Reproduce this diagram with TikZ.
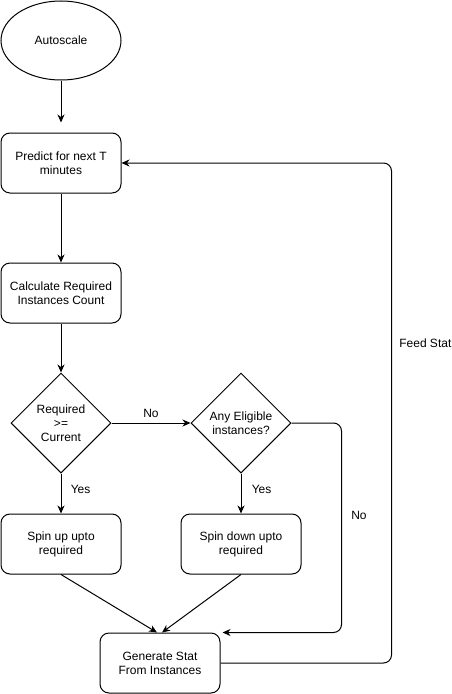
\documentclass[tikz,border=0pt]{standalone}
\usepackage{fontspec}
\setmainfont{Liberation Sans}
\usetikzlibrary{arrows.meta,shapes,positioning}

\begin{document}
\begin{tikzpicture}[
  font=\fontsize{12bp}{14bp}\selectfont,
  >={Stealth[length=8bp,width=7bp,inset=2.5bp]},
  flow/.style={->,line width=1bp},
  start/.style={draw,ellipse,line width=1bp,minimum width=120bp,minimum height=79bp},
  proc/.style={draw,rectangle,rounded corners=9bp,line width=1bp,minimum width=120bp,minimum height=60bp,align=center},
  decide/.style={draw,diamond,line width=1bp,minimum width=100bp,minimum height=100bp,inner sep=0pt,align=center}
]
\useasboundingbox (0bp,0bp) rectangle (452bp,-694bp);

\node (Auto) at (61bp,-40.5bp)[start] {Autoscale};
\node (Predict) at (61bp,-163bp)[proc] {Predict for next T\\minutes};
\node (Calc) at (61bp,-293bp)[proc] {Calculate Required\\Instances Count};
\node (Req) at (61bp,-423bp)[decide] {Required\\>=\\Current};
\node (Elig) at (241bp,-423bp)[decide] {Any Eligible\\instances?};
\node (Up) at (61bp,-544bp)[proc] {Spin up upto\\required};
\node (Down) at (241bp,-544bp)[proc] {Spin down upto\\required};
\node (Gen) at (160bp,-663bp)[proc] {Generate Stat\\From Instances};

\draw [flow] (Auto) -- ([yshift=10bp]Predict.north);
\draw [flow] (Predict) -- (Calc);
\draw [flow] (Calc) -- (Req);
\draw [flow] (Req) -- node[above=2bp] {No} (Elig);
\draw [flow] (Req) -- node[pos=0.4,right=6bp] {Yes} (Up);
\draw [flow] (Elig) -- node[pos=0.4,right=7bp] {Yes} (Down);
\draw [flow] (Up.south) -- ([xshift=-3bp]Gen.north);
\draw [flow] (Down.south) -- ([xshift=2bp]Gen.north);
\draw [flow,rounded corners=8bp] (Elig.east) -- ++(50bp,0bp) |- node[pos=0.22,right=6bp] {No} ([xshift=2bp]Gen.north east);
\draw [flow,rounded corners=8bp] (Gen.east) -- ++(171bp,0bp) |- node[pos=0.32,right=4bp] {Feed Stat} (Predict.east);
\end{tikzpicture}
\end{document}
